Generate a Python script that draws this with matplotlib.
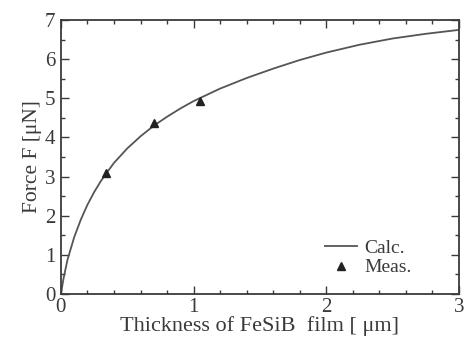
import matplotlib.pyplot as plt
import numpy as np

# curva calcolata
thick_calc = [0, 0.02, 0.05, 0.1, 0.15, 0.2, 0.25, 0.3, 0.35, 0.4, 0.5, 0.6, 0.7, 0.8, 0.9, 1.0,
              1.2, 1.4, 1.6, 1.8, 2.0, 2.25, 2.5, 2.75, 3.0]
force_calc = [0, 0.4, 0.88, 1.45, 1.9, 2.28, 2.6, 2.88, 3.12, 3.35, 3.72, 4.03, 4.3, 4.53, 4.74, 4.93,
              5.25, 5.52, 5.76, 5.98, 6.17, 6.37, 6.53, 6.65, 6.75]

# punti misurati
thick_meas = [0.34, 0.70, 1.05]
force_meas = [3.1, 4.38, 4.93]

col = '#3a3a3a'
plt.rcParams['font.family'] = ['Liberation Serif', 'DejaVu Serif']

fig = plt.figure(figsize=(4.65, 3.41), dpi=100)
ax = fig.add_axes([0.131, 0.138, 0.856, 0.803])

ax.plot(thick_calc, force_calc, color='#555555', lw=1.3, label='Calc.')
ax.plot(thick_meas, force_meas, ls='none', marker='^', ms=6, color='#222222', label='Meas.')

ax.set_xlim(0, 3)
ax.set_ylim(0, 7)
ax.set_xticks([0, 1, 2, 3])
ax.set_yticks(range(8))
ax.set_xticks(np.arange(0, 3.01, 0.2), minor=True)
ax.set_yticks(np.arange(0, 7.01, 0.5), minor=True)
ax.tick_params(which='both', direction='in', top=True, right=True, colors=col, labelsize=15, width=1)
ax.tick_params(which='major', length=6)
ax.tick_params(which='minor', length=3)
ax.tick_params(axis='x', pad=3)
ax.tick_params(axis='y', pad=4)
for s in ax.spines.values():
    s.set_color(col)
    s.set_linewidth(1.3)

ax.set_xlabel('Thickness of FeSiB  film [ μm]', fontsize=16, color=col, labelpad=-1)
ax.set_ylabel('Force F [μN]', fontsize=15.5, color=col, labelpad=2)

leg = ax.legend(loc='lower right', bbox_to_anchor=(0.925, 0.0), frameon=False, fontsize=14,
                numpoints=1, handlelength=1.6, handletextpad=0.4, labelspacing=0.1)
for t in leg.get_texts():
    t.set_color(col)

fig.savefig('out.png', dpi=100)
